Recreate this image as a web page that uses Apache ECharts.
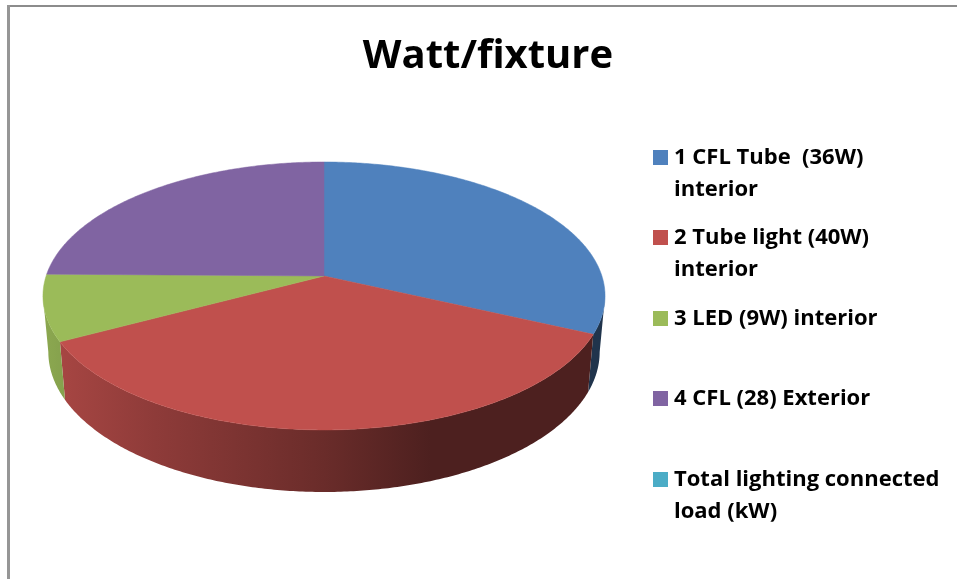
<!DOCTYPE html>
<html>
<head>
<meta charset="utf-8">
<title>Watt/fixture</title>
<style>
  html, body { margin: 0; padding: 0; background: #fff; }
  #chart { width: 957px; height: 579px; }
</style>
<script src="https://cdn.jsdelivr.net/npm/echarts@6/dist/echarts.min.js"></script>
</head>
<body>
<div id="chart"></div>
<script>
const categories = [
  '1 CFL Tube  (36W)\ninterior',
  '2 Tube light (40W)\ninterior',
  '3 LED (9W) interior',
  '4 CFL (28) Exterior',
  'Total lighting connected\nload (kW)',
]
const wattValues = [36, 40, 9, 28, 0]
const sliceColors = ['#4f81bd', '#c0504d', '#9bbb59', '#8064a2', '#4bacc6']

const FONT = '"Open Sans", sans-serif'

// perspective of the tilted disc: the centre of the pie is not the centre of the ellipse
const CX = 324
const TOP = { y0: 276, a: 277.9, b: 131 }
const BOTTOM = { y0: 331, a: 272.6, b: 137 }
const P = 0.149
const SILHOUETTE = Math.acos(-P)

const total = wattValues.reduce((sum, v) => sum + v, 0)

const project = (theta, face) => {
  const u = Math.sin(theta)
  const v = -Math.cos(theta)
  const d = 1 - P * v
  return [CX + (face.a * u) / d, face.y0 + (face.b * v) / d]
}

const arcPoints = (from, to, face) => {
  const steps = Math.max(2, Math.ceil((to - from) / 0.01))
  const points = []
  for (let i = 0; i <= steps; i++) {
    points.push(project(from + ((to - from) * i) / steps, face))
  }
  return points
}

const shadeColor = (hex, k) => {
  const n = parseInt(hex.slice(1), 16)
  const r = Math.round(((n >> 16) & 255) * k)
  const g = Math.round(((n >> 8) & 255) * k)
  const b = Math.round((n & 255) * k)
  return `rgb(${r},${g},${b})`
}

// side wall gets darker from left to right, flat after about x = 430
const wallFill = (color) =>
  new echarts.graphic.LinearGradient(
    43, 0, 605, 0,
    [
      { offset: 0, color: shadeColor(color, 0.9) },
      { offset: 0.04, color: shadeColor(color, 0.86) },
      { offset: 0.2, color: shadeColor(color, 0.74) },
      { offset: 0.5, color: shadeColor(color, 0.55) },
      { offset: 0.69, color: shadeColor(color, 0.4) },
      { offset: 1, color: shadeColor(color, 0.4) },
    ],
    true,
  )

const renderSlice = (params, api) => {
  const value = api.value(0)
  if (!value) return { type: 'group', children: [] }
  const before = wattValues.slice(0, params.dataIndex).reduce((sum, v) => sum + v, 0)
  const start = (before / total) * Math.PI * 2
  const end = ((before + value) / total) * Math.PI * 2
  const color = sliceColors[params.dataIndex]
  const children = []

  const wallStart = Math.max(start, SILHOUETTE)
  const wallEnd = Math.min(end, Math.PI * 2 - SILHOUETTE)
  if (wallEnd > wallStart) {
    children.push({
      type: 'polygon',
      shape: {
        points: arcPoints(wallStart, wallEnd, TOP).concat(
          arcPoints(wallStart, wallEnd, BOTTOM).reverse(),
        ),
      },
      style: { fill: wallFill(color) },
    })
  }
  children.push({
    type: 'polygon',
    shape: { points: [[CX, TOP.y0]].concat(arcPoints(start, end, TOP)) },
    style: { fill: color, stroke: color, lineWidth: 0.5 },
  })
  return { type: 'group', children }
}

const legendTops = [150, 230, 311, 391, 472]
const legendGraphics = categories.flatMap((name, i) => [
  {
    type: 'rect',
    left: 653,
    top: legendTops[i],
    shape: { width: 15, height: 15 },
    style: { fill: sliceColors[i] },
  },
  {
    type: 'text',
    x: 674,
    y: legendTops[i] - 8,
    style: {
      text: name,
      fill: '#000',
      font: `bold 22px ${FONT}`,
      lineHeight: 32,
      verticalAlign: 'top',
    },
  },
])

const chart = echarts.init(document.getElementById('chart'), null, { renderer: 'canvas' })
chart.setOption({
  animation: false,
  backgroundColor: '#fff',
  title: {
    text: 'Watt/fixture',
    left: 483,
    top: 32,
    textAlign: 'center',
    textStyle: { color: '#000', fontFamily: FONT, fontWeight: 'bold', fontSize: 40 },
  },
  graphic: [
    { type: 'rect', left: 7, top: 5, shape: { width: 950, height: 2 }, style: { fill: '#8c8c8c' } },
    { type: 'rect', left: 7, top: 5, shape: { width: 3, height: 574 }, style: { fill: '#969696' } },
    ...legendGraphics,
  ],
  series: [
    {
      type: 'custom',
      coordinateSystem: 'none',
      silent: true,
      renderItem: renderSlice,
      data: wattValues.map((value, i) => ({ name: categories[i], value: [value] })),
    },
  ],
})
</script>
</body>
</html>
